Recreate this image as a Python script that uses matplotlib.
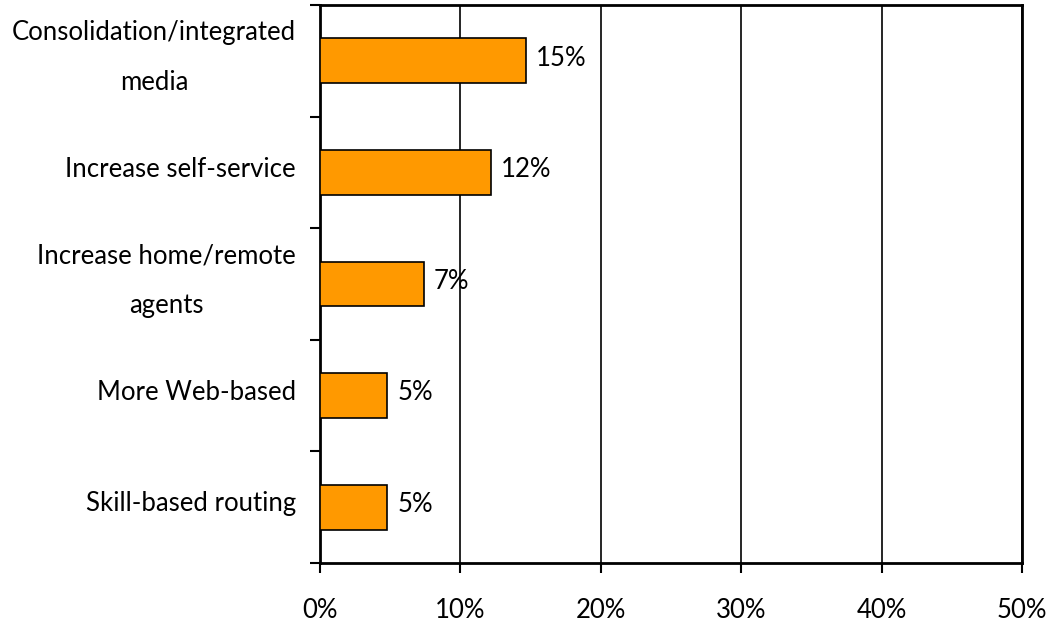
import matplotlib
matplotlib.use("Agg")
import matplotlib.pyplot as plt
from matplotlib.ticker import FixedLocator
from matplotlib.transforms import blended_transform_factory

categories = ["Consolidation/integrated\nmedia", "Increase self-service",
              "Increase home/remote\nagents", "More Web-based", "Skill-based routing"]
values = [14.7, 12.2, 7.4, 4.8, 4.8]
labels = ["15%", "12%", "7%", "5%", "5%"]
xticks = [0, 10, 20, 30, 40, 50]
xticklabels = ["0%", "10%", "20%", "30%", "40%", "50%"]

FS = 18.5
plt.rcParams['font.family'] = ['Lato', 'DejaVu Sans']
fig = plt.figure(figsize=(10.52, 6.23), dpi=100)
ax = fig.add_axes([320/1052, 1-563/623, 702/1052, 558/623])

n = len(categories)
ypos = list(range(n))[::-1]
ax.barh(ypos, values, height=0.4, color="#FF9900", edgecolor="black", linewidth=1.2, zorder=3)
for y, v, lab in zip(ypos, values, labels):
    ax.annotate(lab, (v, y), xytext=(7, 2), textcoords="offset points",
                ha="left", va="center", fontsize=FS, zorder=4)

ax.set_xlim(0, 50)
ax.set_ylim(-0.5, n - 0.5)
ax.set_xticks(xticks)
ax.set_xticklabels(xticklabels, fontsize=FS)
ax.xaxis.grid(True, color="black", linewidth=1.2, zorder=0)
ax.tick_params(axis="x", direction="out", length=7, width=1.5, pad=18)

ax.yaxis.set_major_locator(FixedLocator([i - 0.5 for i in range(n + 1)]))
ax.set_yticklabels([])
ax.tick_params(axis="y", which="major", direction="out", length=7, width=1.5)

trans = blended_transform_factory(ax.transAxes, ax.transData)
for y, cat in zip(ypos, categories):
    ax.text(-24/702, y + 0.03, cat, transform=trans, ha="right", va="center",
            multialignment="center", fontsize=FS, linespacing=2.25)

for s in ax.spines.values():
    s.set_linewidth(2)
    s.set_color("black")

fig.savefig("out.png", dpi=100)
